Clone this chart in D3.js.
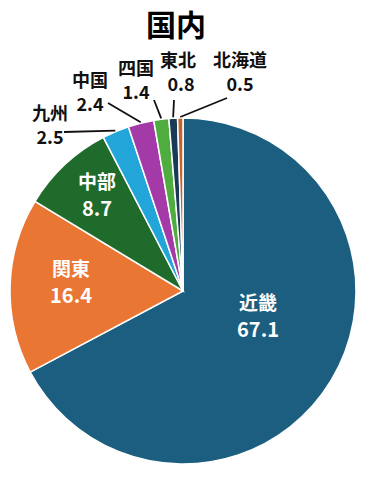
<!DOCTYPE html>
<html>
<head>
<meta charset="utf-8">
<script src="https://cdn.jsdelivr.net/npm/d3@7"></script>
<style>
  body { margin: 0; background: #fff; }
  text { font-family: "Noto Sans CJK JP", "Noto Sans", sans-serif; font-weight: 700; }
</style>
</head>
<body>
<div id="chart"></div>
<script>
const regions = ['近畿', '関東', '中部', '九州', '中国', '四国', '東北', '北海道'];
const shares = [67.1, 16.4, 8.7, 2.5, 2.4, 1.4, 0.8, 0.5];
const colors = ['#1b5e80', '#ea7634', '#1f6b2b', '#22a6da', '#a43aa8', '#4ead3e', '#183a57', '#c4632c'];
const inside = ['近畿', '関東', '中部'];

const WIDTH = 374;
const HEIGHT = 490;
const CX = 183;
const CY = 291;
const R = 173;

// label baselines, relative to the pie centre
const labelPos = {
  '近畿': [75, 19], '関東': [-112, -15], '中部': [-86, -102],
  '九州': [-133, -171], '中国': [-93, -204], '四国': [-47, -216],
  '東北': [-5, -224], '北海道': [57, -224]
};
// where each leader line stops near its label
const leaderEnd = {
  '九州': [-119, -159], '中国': [-75, -188], '四国': [-29, -191],
  '東北': [-9, -191], '北海道': [44, -193]
};

const data = regions.map((r, i) => ({ region: r, value: shares[i], color: colors[i] }));

const svg = d3.select('#chart').append('svg')
  .attr('width', WIDTH)
  .attr('height', HEIGHT);

svg.append('text')
  .attr('x', 176).attr('y', 36)
  .attr('text-anchor', 'middle')
  .style('font-size', '30px')
  .text('国内');

const g = svg.append('g').attr('transform', `translate(${CX},${CY})`);

const pie = d3.pie().sort(null).value(d => d.value);
const arc = d3.arc().innerRadius(0).outerRadius(R);
const edge = d3.arc().innerRadius(R + 1).outerRadius(R + 1);
const arcs = pie(data);

g.selectAll('path.slice')
  .data(arcs)
  .enter()
  .append('path')
  .attr('class', 'slice')
  .attr('d', arc)
  .attr('fill', d => d.data.color)
  .attr('stroke', '#fff')
  .attr('stroke-width', 1.5);

g.selectAll('line.leader')
  .data(arcs.filter(d => !inside.includes(d.data.region)))
  .enter()
  .append('line')
  .attr('class', 'leader')
  .attr('x1', d => edge.centroid(d)[0])
  .attr('y1', d => edge.centroid(d)[1])
  .attr('x2', d => leaderEnd[d.data.region][0])
  .attr('y2', d => leaderEnd[d.data.region][1])
  .attr('stroke', '#111')
  .attr('stroke-width', 1.8);

const labels = g.selectAll('g.label')
  .data(arcs)
  .enter()
  .append('g')
  .attr('class', 'label')
  .attr('transform', d => `translate(${labelPos[d.data.region]})`);

labels.append('text')
  .attr('text-anchor', 'middle')
  .style('font-size', d => inside.includes(d.data.region) ? '19px' : '18px')
  .attr('fill', d => inside.includes(d.data.region) ? '#fff' : '#111')
  .text(d => d.data.region);

labels.append('text')
  .attr('text-anchor', 'middle')
  .attr('y', d => inside.includes(d.data.region) ? 27 : 24)
  .attr('dx', d => d.data.region === '東北' ? 3 : 0)
  .style('font-size', d => inside.includes(d.data.region) ? '20px' : '18px')
  .attr('fill', d => inside.includes(d.data.region) ? '#fff' : '#111')
  .text(d => d.data.value.toFixed(1));
</script>
</body>
</html>
